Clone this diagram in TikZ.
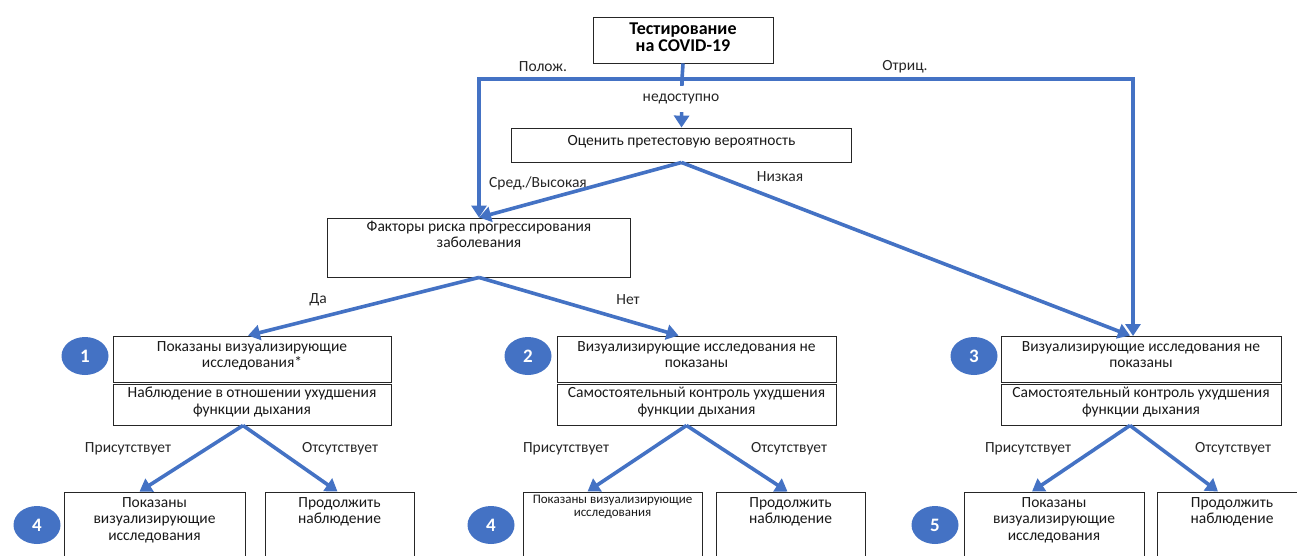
\documentclass[tikz,border=0pt]{standalone}
\usepackage{fontspec}
\setmainfont{Carlito}
\usetikzlibrary{arrows.meta,calc,shapes.geometric}
\definecolor{flow}{HTML}{4472C4}
\begin{document}
\begin{tikzpicture}[x=1pt,y=-1pt,
  box/.style={draw=black!85, line width=0.9pt, inner sep=0pt},
  txt/.style={font=\fontsize{15.5}{16.5}\selectfont, align=center, inner sep=0pt, text=black!90, anchor=north, yshift=-1.5pt},
  small/.style={font=\fontsize{13}{12.5}\selectfont, align=center, inner sep=0pt, text=black!90, anchor=north},
  lbl/.style={font=\fontsize{15.5}{16.5}\selectfont, inner sep=1pt, text=black!85},
  flowline/.style={draw=flow, line width=3.6pt},
  arr/.style={flowline, -{Triangle[width=15pt,length=12pt]}},
  num/.style={ellipse, fill=flow, minimum width=47, minimum height=38, inner sep=0pt, text=white, font=\bfseries\fontsize{19}{19}\selectfont}]
\useasboundingbox (0,0) rectangle (1297,555);
\fill[white] (0,0) rectangle (1297,555);
\clip (0,0) rectangle (1297,555);

% boxes
\node[box, minimum width=180, minimum height=46] (top) at (683,40) {};
\node[font=\bfseries\fontsize{18}{17.5}\selectfont, align=center, inner sep=0pt] (toptxt) at (683,37) {Тестирование\\на COVID-19};
\node[box, minimum width=340, minimum height=34] (est) at (681.5,145) {};
\node[txt] (esttxt) at (681.5,134) {Оценить претестовую вероятность};
\node[box, minimum width=303, minimum height=59] (fact) at (479,247.5) {};
\node[txt] (facttxt) at (479,219) {Факторы риска прогрессирования\\заболевания};

\node[box, minimum width=278, minimum height=46] (b1t) at (252,359) {};
\node[txt] (b1ttxt) at (252,339.5) {Показаны визуализирующие\\исследования*};
\node[box, minimum width=278, minimum height=41] (b1b) at (252,404.5) {};
\node[txt] (b1btxt) at (252,385.5) {Наблюдение в отношении ухудшения\\функции дыхания};

\node[box, minimum width=279, minimum height=46] (b2t) at (696.5,359) {};
\node[txt] (b2ttxt) at (696.5,339.5) {Визуализирующие исследования не\\показаны};
\node[box, minimum width=279, minimum height=41] (b2b) at (696.5,404.5) {};
\node[txt] (b2btxt) at (696.5,385.5) {Самостоятельный контроль ухудшения\\функции дыхания};

\node[box, minimum width=280, minimum height=46] (b3t) at (1141,359) {};
\node[txt] (b3ttxt) at (1141,339.5) {Визуализирующие исследования не\\показаны};
\node[box, minimum width=280, minimum height=41] (b3b) at (1141,404.5) {};
\node[txt] (b3btxt) at (1141,385.5) {Самостоятельный контроль ухудшения\\функции дыхания};

% leaves
\node[box, minimum width=181, minimum height=68] (l1a) at (154.5,526) {};
\node[txt] (l1atxt) at (154.5,495.5) {Показаны\\визуализирующие\\исследования};
\node[box, minimum width=149, minimum height=68] (l1b) at (339.5,526) {};
\node[txt] (l1btxt) at (339.5,495.5) {Продолжить\\наблюдение};
\node[box, minimum width=179, minimum height=68] (l2a) at (612.5,526) {};
\node[small] (l2atxt) at (612.5,495) {Показаны визуализирующие\\исследования};
\node[box, minimum width=149, minimum height=68] (l2b) at (790.5,526) {};
\node[txt] (l2btxt) at (790.5,495.5) {Продолжить\\наблюдение};
\node[box, minimum width=180, minimum height=68] (l3a) at (1054,526) {};
\node[txt] (l3atxt) at (1054,495.5) {Показаны\\визуализирующие\\исследования};
\node[box, minimum width=150, minimum height=68] (l3b) at (1232,526) {};
\node[txt] (l3btxt) at (1232,495.5) {Продолжить\\наблюдение};

% numbers
\node[num] (n1) at (85,356) {1};
\node[num] (n2) at (528,356) {2};
\node[num] (n3) at (974,356) {3};
\node[num] (n4a) at (37,525) {4};
\node[num] (n4b) at (491,525) {4};
\node[num] (n5) at (935,525) {5};

% connectors
\coordinate (j) at (682,79);
\coordinate (r3) at (1133,336);
\draw[flowline] (top.south) -- (j);
\draw[arr] (j) -| (fact.north);
\draw[arr] (j) -| (r3);
\draw[arr] (j) -- (est.north);
\node[lbl, fill=white, minimum height=26pt] (na) at (681,99) {недоступно};
\node[lbl] (pos) at (543,67) {Полож.};
\node[lbl] (neg) at (905,67) {Отриц.};

\draw[arr] (est.south) -- (fact.north);
\draw[arr] (est.south) -- ($(b3t.north)+(-11,0)$);
\node[lbl] (mid) at (538,183) {Сред./Высокая};
\node[lbl] (low) at (780,177) {Низкая};

\draw[arr] (fact.south) -- ($(b1t.north)+(-4,0)$);
\draw[arr] (fact.south) -- ($(b2t.north)+(-18,0)$);
\node[lbl] (yes) at (318,300) {Да};
\node[lbl] (no) at (628,300) {Нет};

\draw[arr] ($(b1b.south)+(-9,0)$) -- ($(l1a.north)+(-15,0)$);
\draw[arr] ($(b1b.south)+(-9,0)$) -- ($(l1b.north)+(-2,0)$);
\draw[arr] ($(b2b.south)+(-10,0)$) -- ($(l2a.north)+(-25,0)$);
\draw[arr] ($(b2b.south)+(-10,0)$) -- ($(l2b.north)+(-3,0)$);
\draw[arr] ($(b3b.south)+(-11,0)$) -- ($(l3a.north)+(-22,0)$);
\draw[arr] ($(b3b.south)+(-11,0)$) -- ($(l3b.north)+(-14,0)$);

\node[lbl] (p1) at (128,449) {Присутствует};
\node[lbl] (a1) at (340,449) {Отсутствует};
\node[lbl] (p2) at (566,449) {Присутствует};
\node[lbl] (a2) at (789,449) {Отсутствует};
\node[lbl] (p3) at (1028,449) {Присутствует};
\node[lbl] (a3) at (1233,449) {Отсутствует};
\end{tikzpicture}
\end{document}
